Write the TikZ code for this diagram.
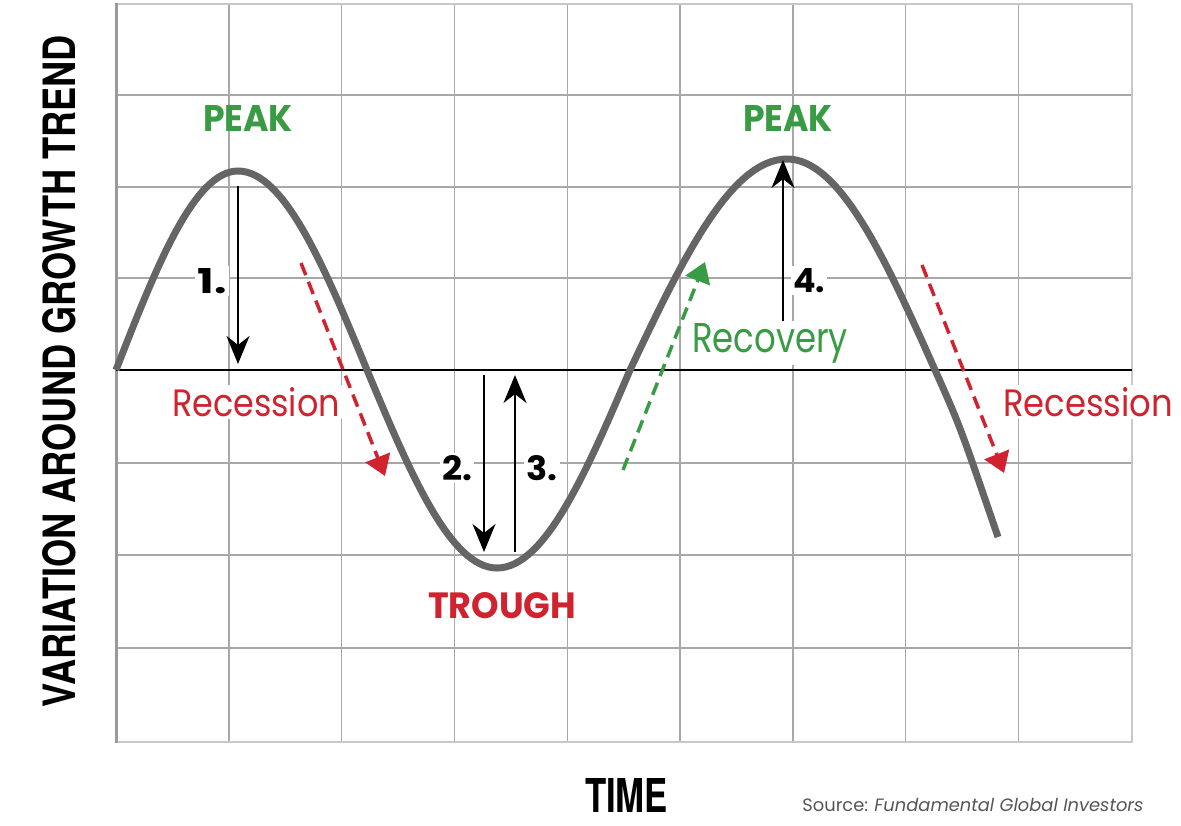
\documentclass[tikz,border=0pt]{standalone}
\usepackage{fontspec}
\usepackage{graphicx}
\setmainfont{Poppins}
\newfontfamily\heros{TeX Gyre Heros}
\usetikzlibrary{arrows.meta}
\definecolor{curvegray}{HTML}{656565}
\definecolor{gridgray}{HTML}{A8A8A8}
\definecolor{borderg}{HTML}{C8C8C8}
\definecolor{axisg}{HTML}{9A9A9A}
\definecolor{pkgreen}{HTML}{3A9B45}
\definecolor{trred}{HTML}{D0222F}
\definecolor{srcgray}{HTML}{555555}
\tikzset{
  gridline/.style={gridgray, line width=0.7pt},
  borderline/.style={borderg, line width=1.1pt},
  curve/.style={curvegray, line width=3.5pt, line cap=butt},
  blackarrow/.style={black, line width=1.2pt, -{Stealth[length=14pt,width=11.5pt,inset=4.5pt]}},
  dasharrow/.style={line width=1.75pt, dash pattern=on 6.5pt off 3.6pt, -{Triangle[length=10pt,width=13pt]}},
  lbl/.style={inner sep=1.2pt, fill=white, anchor=base},
  plain/.style={inner sep=0pt, anchor=base}
}
\newcommand{\fitpx}[3]{\resizebox{#1}{#2}{#3}}
\begin{document}
\begin{tikzpicture}[x=0.5pt,y=-0.5pt]
\useasboundingbox (0,0) rectangle (1181,825);
% grid
\foreach \xx in {228.8,341.6,454.4,567.2,680,792.8,905.6,1018.4}
  \draw[gridline] (\xx,4) -- (\xx,742);
\foreach \yy in {95,187,278,463,555,648}
  \draw[gridline] (116,\yy) -- (1132,\yy);
\draw[borderline] (116,4) -- (1132,4) -- (1132,742) -- (116,742);
\draw[axisg, line width=1.5pt] (116,3) -- (116,743);
% zero line
\draw[black, line width=1.2pt] (116,370) -- (1132,370);
% curve
\draw[curve] (116,370) sin (238,171) cos (367,370) sin (497,568) cos (630,370) sin (787,159) cos (935,370) .. controls (960,426) .. (998,537);

% labels with white background
\node[lbl] (n1) at (212,293) {\fitpx{14.5pt}{12.5pt}{\bfseries 1.}};
\node[lbl] (n2) at (457,480) {\fitpx{15pt}{12.5pt}{\bfseries 2.}};
\node[lbl] (n3) at (542,480) {\fitpx{15.5pt}{12.5pt}{\bfseries 3.}};
\node[lbl] (n4) at (809,292) {\fitpx{16pt}{12pt}{\bfseries 4.}};
\node[lbl, text=trred] (rec1) at (256,416) {\fitpx{84pt}{14.5pt}{Recession}};
\node[lbl, text=trred] (rec2) at (1088,416) {\fitpx{85pt}{14.5pt}{Recession}};

% arrows
\coordinate (a1s) at (238,186); \coordinate (a1e) at (238,364);
\coordinate (a2s) at (484,375); \coordinate (a2e) at (484,552);
\coordinate (a3s) at (515,552); \coordinate (a3e) at (515,375);
\coordinate (a4s) at (783,363); \coordinate (a4e) at (783,160);
\draw[blackarrow] (a1s) -- (a1e);
\draw[blackarrow] (a2s) -- (a2e);
\draw[blackarrow] (a3s) -- (a3e);
\draw[blackarrow] (a4s) -- (a4e);

\node[lbl, text=pkgreen] (recov) at (770,352) {\fitpx{78pt}{14.5pt}{Recovery}};

\coordinate (r1s) at (301,263); \coordinate (r1e) at (385,476);
\coordinate (r2s) at (922,265); \coordinate (r2e) at (1004,473);
\coordinate (g1s) at (623,470); \coordinate (g1e) at (705,262);
\draw[dasharrow, trred] (r1s) -- (r1e);
\draw[dasharrow, trred] (r2s) -- (r2e);
\draw[dasharrow, pkgreen] (g1s) -- (g1e);

% peak / trough
\node[plain, text=pkgreen] (peak1) at (248,131) {\fitpx{45pt}{13pt}{\bfseries PEAK}};
\node[plain, text=pkgreen] (peak2) at (788,131) {\fitpx{45pt}{13pt}{\bfseries PEAK}};
\node[plain, text=trred] (trough) at (502,618) {\fitpx{74pt}{13pt}{\bfseries TROUGH}};

% axes titles
\node[inner sep=0pt, rotate=90] (ylab) at (59.5,371) {\fitpx{336pt}{16.5pt}{\heros\bfseries VARIATION AROUND GROWTH TREND}};
\node[plain] (time) at (626.5,812) {\fitpx{41.5pt}{17pt}{\heros\bfseries TIME}};
\node[inner sep=0pt, anchor=base west, text=srcgray] (src) at (802,811) {\resizebox{170.5pt}{!}{Source: \textit{Fundamental Global Investors}}};
\end{tikzpicture}
\end{document}
